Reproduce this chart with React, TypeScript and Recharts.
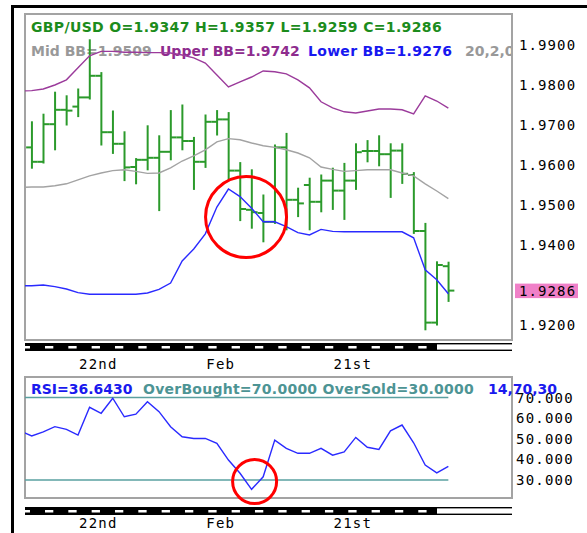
import React from "react";
import {
  ComposedChart,
  Bar,
  Line,
  XAxis,
  YAxis,
  ReferenceLine,
  ReferenceDot,
} from "recharts";

const SANS = "'DejaVu Sans', Verdana, sans-serif";
const MONO = "'DejaVu Sans Mono', monospace";

const GREEN = "#2b9a2b";
const PURPLE = "#9b3b9b";
const GREY = "#a3a3a3";
const BLUE = "#2a2aff";
const TEAL = "#5aa0a0";

// daily GBP/USD bars (index 0..36)
const opens = [1.9644, 1.9608, 1.9702, 1.9738, 1.9746, 1.9769, 1.9823, 1.9682, 1.9653, 1.9595, 1.9613, 1.9618, 1.9633, 1.9669, 1.966, 1.9608, 1.9708, 1.9714, 1.9586, 1.9488, 1.948, 1.9458, 1.9644, 1.9513, 1.955, 1.9508, 1.9561, 1.9536, 1.9561, 1.9635, 1.9635, 1.9627, 1.9636, 1.9575, 1.9435, 1.9206, 1.9347];
const highs = [1.9708, 1.9727, 1.9782, 1.9773, 1.979, 1.9913, 1.9831, 1.9735, 1.9683, 1.9616, 1.9698, 1.9673, 1.9736, 1.975, 1.9669, 1.9725, 1.9736, 1.9731, 1.9606, 1.9588, 1.9525, 1.965, 1.9679, 1.9542, 1.9567, 1.9575, 1.9592, 1.9604, 1.9653, 1.9661, 1.9673, 1.9653, 1.9653, 1.9581, 1.9454, 1.9358, 1.9357];
const lows = [1.9592, 1.9605, 1.9638, 1.97, 1.9721, 1.9765, 1.965, 1.9629, 1.9561, 1.9553, 1.9588, 1.9486, 1.9613, 1.9638, 1.9539, 1.9594, 1.9675, 1.9563, 1.9461, 1.9442, 1.9408, 1.9454, 1.9438, 1.9471, 1.9438, 1.9483, 1.9489, 1.9464, 1.9539, 1.9608, 1.9598, 1.9519, 1.9554, 1.9429, 1.9188, 1.92, 1.9259];
const closes = [1.9608, 1.9702, 1.9738, 1.9736, 1.9769, 1.9823, 1.9682, 1.9653, 1.9594, 1.9613, 1.9618, 1.9633, 1.9669, 1.966, 1.9608, 1.9708, 1.9714, 1.9586, 1.949, 1.9482, 1.9458, 1.9644, 1.9513, 1.9504, 1.9508, 1.9561, 1.9536, 1.9561, 1.9632, 1.9635, 1.9627, 1.9636, 1.9578, 1.9435, 1.9206, 1.935, 1.9286];

// indicator values start one slot before the first visible bar (index -1)
const upperBB = [1.9785, 1.9786, 1.979, 1.98, 1.9813, 1.9843, 1.9873, 1.9884, 1.9884, 1.9882, 1.9882, 1.9881, 1.9881, 1.988, 1.9875, 1.9868, 1.9855, 1.9825, 1.9795, 1.9808, 1.982, 1.9835, 1.9833, 1.9828, 1.9813, 1.9793, 1.9758, 1.9743, 1.9733, 1.973, 1.9735, 1.974, 1.974, 1.9738, 1.9728, 1.9773, 1.976, 1.9742];
const midBB = [1.9544, 1.9545, 1.9545, 1.9548, 1.9553, 1.9563, 1.9573, 1.958, 1.9586, 1.9588, 1.9584, 1.9579, 1.958, 1.9593, 1.961, 1.9623, 1.9638, 1.9658, 1.9666, 1.9663, 1.9655, 1.9648, 1.9644, 1.9638, 1.963, 1.9618, 1.9595, 1.9589, 1.9584, 1.9586, 1.9588, 1.9588, 1.9588, 1.958, 1.9573, 1.9553, 1.9535, 1.9516];
const lowerBB = [1.9298, 1.9298, 1.93, 1.9296, 1.929, 1.9281, 1.9277, 1.9277, 1.9277, 1.9277, 1.9277, 1.928, 1.9289, 1.9305, 1.936, 1.939, 1.9428, 1.9495, 1.954, 1.9521, 1.9492, 1.9458, 1.9458, 1.9446, 1.9431, 1.9425, 1.9439, 1.9434, 1.9433, 1.9433, 1.9433, 1.9433, 1.9433, 1.9433, 1.9418, 1.9338, 1.9313, 1.9278];
const rsi = [53.8, 51.4, 53.4, 55.9, 54.6, 51.8, 65.3, 62.4, 69.7, 60.7, 62.0, 68.0, 63.2, 55.9, 51.0, 50.2, 50.2, 47.8, 39.7, 33.3, 25.5, 31.6, 49.4, 45.4, 43.0, 43.0, 45.4, 42.1, 43.7, 50.7, 45.9, 44.9, 53.9, 56.7, 48.1, 37.3, 33.5, 36.64];

const xTicks = [4, 15, 26];
const xTickLabels = ["22nd", "Feb", "21st"];
const priceTicks = [1.92, 1.9286, 1.94, 1.95, 1.96, 1.97, 1.98, 1.99];
const rsiTicks = [30, 40, 50, 60, 70];
const lastClose = 1.9286;

const X_DOMAIN: [number, number] = [-0.58, 41.5];

const data = upperBB.map((u, k) => {
  const i = k - 1;
  const has = i >= 0;
  return {
    i,
    hl: has ? [lows[i], highs[i]] : null,
    open: has ? opens[i] : null,
    close: has ? closes[i] : null,
    upper: u,
    mid: midBB[k],
    lower: lowerBB[k],
    rsi: rsi[k],
  };
});

function OhlcShape(props: any) {
  const { x, y, width, height, payload } = props;
  if (!payload || !payload.hl) return null;
  const [lo, hi] = payload.hl;
  const top = Math.min(y, y + height);
  const bot = Math.max(y, y + height);
  const cx = x + width / 2;
  const py = (v: number) => top + ((hi - v) / (hi - lo)) * (bot - top);
  const t = 5.8;
  return (
    <g stroke={GREEN} strokeWidth={2}>
      <line x1={cx} x2={cx} y1={top - 0.5} y2={bot + 0.5} />
      <line x1={cx - t} x2={cx} y1={py(payload.open)} y2={py(payload.open)} />
      <line x1={cx} x2={cx + t} y1={py(payload.close)} y2={py(payload.close)} />
    </g>
  );
}

function DateTick(props: any) {
  const { x, y, payload, dy } = props;
  const k = xTicks.indexOf(payload.value);
  return (
    <text x={x + 1} y={y + dy} fontFamily={MONO} fontSize={14} letterSpacing={1.2} fill="#000">
      {xTickLabels[k]}
    </text>
  );
}

function PriceTick(props: any) {
  const { x, y, payload } = props;
  const v = payload.value;
  const cur = v === lastClose;
  return (
    <g>
      {cur && <rect x={x + 3} y={y - 7} width={63} height={14.5} fill="#f080c8" />}
      <text x={x + 7} y={y + 5} fontFamily={MONO} fontSize={14} letterSpacing={1.1} fill="#000">
        {v.toFixed(4)}
      </text>
    </g>
  );
}

function RsiTick(props: any) {
  const { x, y, payload } = props;
  return (
    <text x={x + 4} y={y + 5} fontFamily={MONO} fontSize={14} letterSpacing={1.2} fill="#000">
      {payload.value.toFixed(3)}
    </text>
  );
}

function Strip({ y }: { y: number }) {
  const dashes = [];
  for (let k = -1; k <= 16; k++) {
    const s = 45 + 23.33 * k;
    const x0 = Math.max(25, s);
    dashes.push(<rect key={k} x={x0} y={y + 3} width={s + 8.3 - x0} height={2.5} fill="#fff" />);
  }
  return (
    <g>
      <rect x={25} y={y} width={412} height={8} fill="#000" />
      {dashes}
      <rect x={437} y={y} width={75} height={1.4} fill="#000" />
      <rect x={437} y={y + 6.6} width={75} height={1.4} fill="#000" />
    </g>
  );
}

const abs: React.CSSProperties = { position: "absolute", left: 0, top: 0 };

export default function App() {
  return (
    <div style={{ position: "absolute", left: 0, top: 0, width: 587, height: 533, background: "#fff", overflow: "hidden" }}>
      {/* frame, panels and the main legend sit under the chart */}
      <svg width={587} height={533} style={abs}>
        <defs>
          <clipPath id="mainClip">
            <rect x={25} y={14} width={486} height={326} />
          </clipPath>
        </defs>
        <rect x={11} y={5} width={576} height={3} fill="#000" />
        <rect x={11} y={5} width={3} height={528} fill="#000" />
        <rect x={25} y={14} width={487} height={326} fill="#fff" stroke={GREY} strokeWidth={2} />
        <rect x={25} y={377} width={487} height={121} fill="#fff" stroke={GREY} strokeWidth={2} />
        <Strip y={343} />
        <Strip y={507} />
        <g fontFamily={SANS} fontSize={14} fontWeight="bold" clipPath="url(#mainClip)">
          <text x={31} y={32} fill="#1c8c1c" letterSpacing={0.35}>GBP/USD O=1.9347 H=1.9357 L=1.9259 C=1.9286</text>
          <text x={31} y={56} fill="#999">Mid BB=1.9509</text>
          <text x={160} y={56} fill="#8e2c8e">Upper BB=1.9742</text>
          <text x={308} y={56} fill="#1818f0" letterSpacing={0.3}>Lower BB=1.9276</text>
          <text x={465} y={56} fill="#999">20,2,0</text>
        </g>
      </svg>

      <div style={abs}>
        <ComposedChart width={587} height={373} data={data} margin={{ top: 14, right: 0, bottom: 0, left: 25 }}>
          <XAxis
            dataKey="i"
            type="number"
            domain={X_DOMAIN}
            allowDataOverflow
            ticks={xTicks}
            interval={0}
            height={33}
            axisLine={false}
            tickLine={false}
            tickSize={0}
            tickMargin={0}
            tick={(p: any) => <DateTick {...p} dy={29} />}
          />
          <YAxis
            orientation="right"
            type="number"
            domain={[1.91625, 1.99775]}
            allowDataOverflow
            ticks={priceTicks}
            interval={0}
            width={75}
            axisLine={false}
            tickLine={false}
            tickSize={0}
            tickMargin={0}
            tick={<PriceTick />}
          />
          <Line dataKey="upper" stroke={PURPLE} strokeWidth={1.4} dot={false} isAnimationActive={false} />
          <Line dataKey="mid" stroke={GREY} strokeWidth={1.4} dot={false} isAnimationActive={false} />
          <Line dataKey="lower" stroke={BLUE} strokeWidth={1.4} dot={false} isAnimationActive={false} />
          <Bar dataKey="hl" barSize={2} shape={<OhlcShape />} isAnimationActive={false} />
          <ReferenceDot x={18.52} y={1.947} r={40.5} fill="none" stroke="#ff0000" strokeWidth={3} ifOverflow="visible" />
        </ComposedChart>
      </div>

      <div style={{ ...abs, top: 360 }}>
        <ComposedChart width={587} height={173} data={data} margin={{ top: 17, right: 0, bottom: 0, left: 25 }}>
          <XAxis
            dataKey="i"
            type="number"
            domain={X_DOMAIN}
            allowDataOverflow
            ticks={xTicks}
            interval={0}
            height={35}
            axisLine={false}
            tickLine={false}
            tickSize={0}
            tickMargin={0}
            tick={(p: any) => <DateTick {...p} dy={30} />}
          />
          <YAxis
            orientation="right"
            type="number"
            domain={[21.3, 80]}
            allowDataOverflow
            ticks={rsiTicks}
            interval={0}
            width={75}
            axisLine={false}
            tickLine={false}
            tickSize={0}
            tickMargin={0}
            tick={<RsiTick />}
          />
          <ReferenceLine segment={[{ x: X_DOMAIN[0], y: 70 }, { x: 36, y: 70 }]} stroke={TEAL} strokeWidth={1.5} ifOverflow="visible" />
          <ReferenceLine segment={[{ x: X_DOMAIN[0], y: 30 }, { x: 36, y: 30 }]} stroke={TEAL} strokeWidth={1.5} ifOverflow="visible" />
          <Line dataKey="rsi" stroke={BLUE} strokeWidth={1.4} dot={false} isAnimationActive={false} />
          <ReferenceDot x={19.26} y={29.3} r={22} fill="none" stroke="#ff0000" strokeWidth={3} ifOverflow="visible" />
        </ComposedChart>
      </div>

      {/* RSI legend is drawn over the axis labels, as in the source */}
      <svg width={587} height={533} style={{ ...abs, pointerEvents: "none" }}>
        <g fontFamily={SANS} fontSize={14} fontWeight="bold">
          <text x={31} y={394} fill="#1a1aee">RSI=36.6430</text>
          <text x={143} y={394} fill="#4d9494" letterSpacing={0.25}>OverBought=70.0000 OverSold=30.0000</text>
          <text x={488} y={394} fill="#1a1aee">14,70,30</text>
        </g>
      </svg>
    </div>
  );
}
